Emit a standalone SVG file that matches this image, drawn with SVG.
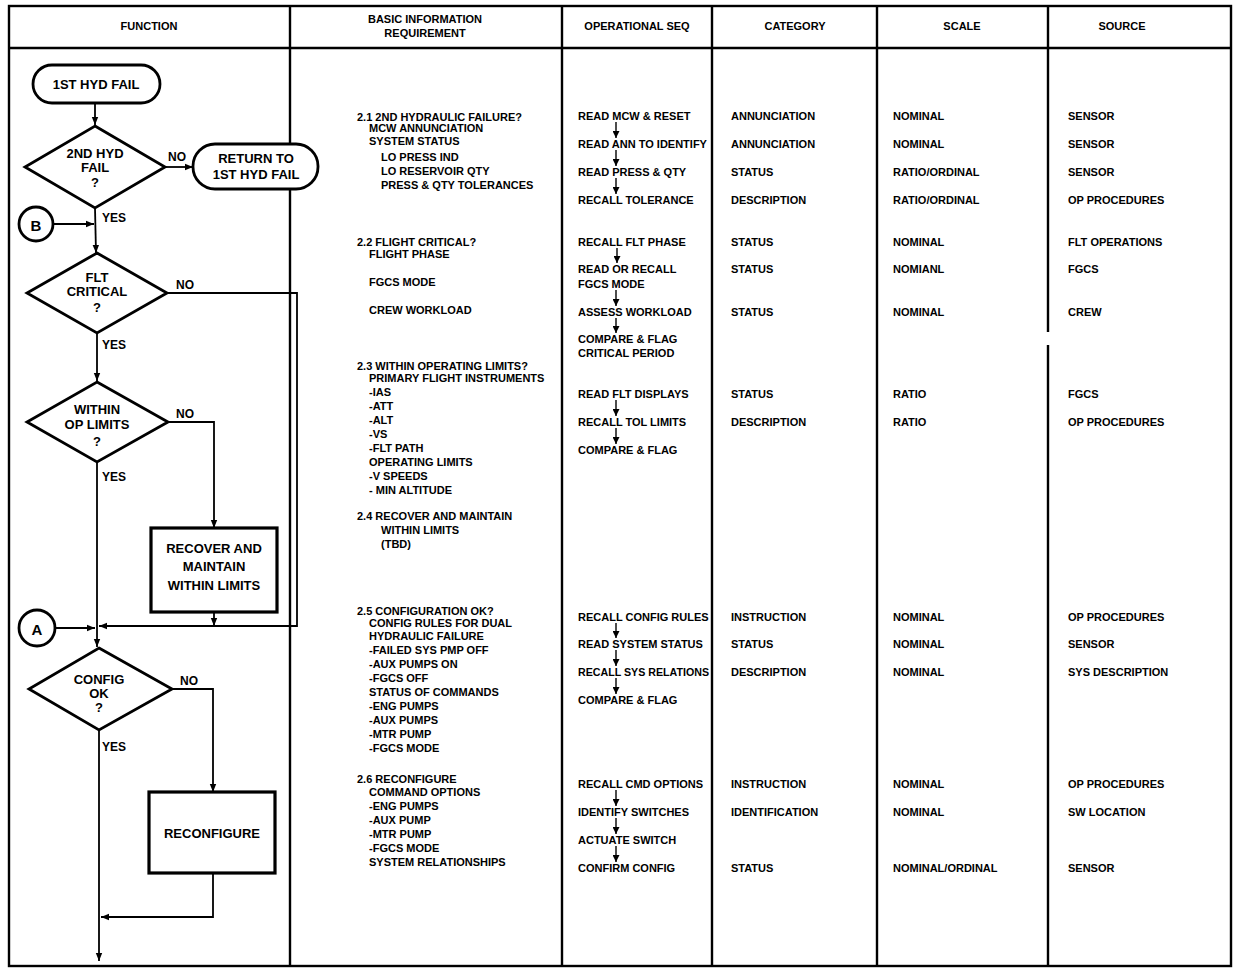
<svg xmlns="http://www.w3.org/2000/svg" width="1236" height="970" viewBox="0 0 1236 970">
<defs>
<marker id="ah" viewBox="0 0 10 10" refX="10" refY="5" markerWidth="8" markerHeight="8" markerUnits="userSpaceOnUse" orient="auto">
<path d="M0,1 L10,5 L0,9 z" fill="#000"/>
</marker>
<marker id="sa" viewBox="0 0 10 10" refX="10" refY="5" markerWidth="7" markerHeight="7" markerUnits="userSpaceOnUse" orient="auto">
<path d="M0,0 L10,5 L0,10 z" fill="#000"/>
</marker>
</defs>
<style>
.grid{stroke:#000;stroke-width:2.4;fill:none}
.t{font-family:"Liberation Sans",Arial,sans-serif;font-weight:bold;font-size:11px;fill:#000;dominant-baseline:central}
.h{font-family:"Liberation Sans",Arial,sans-serif;font-weight:bold;font-size:11px;fill:#000;text-anchor:middle;dominant-baseline:central}
.f{font-family:"Liberation Sans",Arial,sans-serif;font-weight:bold;font-size:13px;fill:#000;text-anchor:middle;dominant-baseline:central}
.lb{font-family:"Liberation Sans",Arial,sans-serif;font-weight:bold;font-size:12px;fill:#000;dominant-baseline:central}
.shape{fill:#fff;stroke:#000;stroke-width:2.8}
.box{fill:#fff;stroke:#000;stroke-width:3.2}
.c{fill:none;stroke:#000;stroke-width:1.8}
.sq{fill:none;stroke:#000;stroke-width:1.4}
</style>
<rect width="1236" height="970" fill="#fff"/>
<g id="table">
<rect class="grid" x="9" y="6" width="1222" height="960"/>
<line class="grid" x1="9" y1="48" x2="1231" y2="48"/>
<line class="grid" x1="290" y1="6" x2="290" y2="966"/>
<line class="grid" x1="562" y1="6" x2="562" y2="966"/>
<line class="grid" x1="712" y1="6" x2="712" y2="966"/>
<line class="grid" x1="877" y1="6" x2="877" y2="966"/>
<line class="grid" x1="1048" y1="6" x2="1048" y2="332"/>
<line class="grid" x1="1048" y1="345" x2="1048" y2="966"/>
<text class="h" x="149" y="26">FUNCTION</text>
<text class="h" x="425" y="19">BASIC INFORMATION</text>
<text class="h" x="425" y="33">REQUIREMENT</text>
<text class="h" x="637" y="26">OPERATIONAL SEQ</text>
<text class="h" x="795" y="26">CATEGORY</text>
<text class="h" x="962" y="26">SCALE</text>
<text class="h" x="1122" y="26">SOURCE</text>
</g>
<g id="connectors">
<line class="c" x1="95" y1="103" x2="95" y2="125" marker-end="url(#ah)"/>
<line class="c" x1="165" y1="167" x2="193" y2="167" marker-end="url(#ah)"/>
<line class="c" x1="95" y1="208" x2="96" y2="253" marker-end="url(#ah)"/>
<line class="c" x1="54" y1="224" x2="94" y2="224" marker-end="url(#ah)"/>
<line class="c" x1="97" y1="333" x2="97" y2="381" marker-end="url(#ah)"/>
<polyline class="c" points="167,293 297,293 297,626 99,626" marker-end="url(#ah)"/>
<polyline class="c" points="168,422 214,422 214,528" marker-end="url(#ah)"/>
<line class="c" x1="214" y1="612" x2="214" y2="626" marker-end="url(#ah)"/>
<line class="c" x1="97" y1="462" x2="97" y2="647" marker-end="url(#ah)"/>
<line class="c" x1="55" y1="628" x2="95" y2="628" marker-end="url(#ah)"/>
<polyline class="c" points="172,689 213,689 213,792" marker-end="url(#ah)"/>
<polyline class="c" points="213,873 213,917 101,917" marker-end="url(#ah)"/>
<line class="c" x1="99" y1="730" x2="99" y2="961" marker-end="url(#ah)"/>
<text class="lb" x="168" y="157">NO</text>
<text class="lb" x="102" y="218">YES</text>
<text class="lb" x="176" y="285">NO</text>
<text class="lb" x="102" y="345">YES</text>
<text class="lb" x="176" y="414">NO</text>
<text class="lb" x="102" y="477">YES</text>
<text class="lb" x="180" y="681">NO</text>
<text class="lb" x="102" y="747">YES</text>
</g>
<g id="n_start">
<rect class="shape" x="33" y="65" width="127" height="38" rx="19"/>
<text class="f" x="96" y="84">1ST HYD FAIL</text>
</g>
<g id="n_2ndhyd">
<polygon class="shape" points="95,126 165,167 95,208 25,167"/>
<text class="f" x="95" y="153">2ND HYD</text>
<text class="f" x="95" y="167">FAIL</text>
<text class="f" x="95" y="182">?</text>
</g>
<g id="n_return">
<rect class="shape" x="193" y="144" width="125" height="45" rx="22"/>
<text class="f" x="256" y="158">RETURN TO</text>
<text class="f" x="256" y="174">1ST HYD FAIL</text>
</g>
<g id="n_b">
<circle class="shape" cx="36" cy="224" r="17"/>
<text class="f" x="36" y="225" style="font-size:15px">B</text>
</g>
<g id="n_flt">
<polygon class="shape" points="97,253 167,293 97,333 27,293"/>
<text class="f" x="97" y="277">FLT</text>
<text class="f" x="97" y="291">CRITICAL</text>
<text class="f" x="97" y="307">?</text>
</g>
<g id="n_within">
<polygon class="shape" points="97,382 168,422 97,462 27,422"/>
<text class="f" x="97" y="409">WITHIN</text>
<text class="f" x="97" y="424">OP  LIMITS</text>
<text class="f" x="97" y="441">?</text>
</g>
<g id="n_recover">
<rect class="box" x="151" y="528" width="126" height="84"/>
<text class="f" x="214" y="548">RECOVER  AND</text>
<text class="f" x="214" y="566">MAINTAIN</text>
<text class="f" x="214" y="585">WITHIN  LIMITS</text>
</g>
<g id="n_a">
<circle class="shape" cx="37" cy="628" r="18"/>
<text class="f" x="37" y="629" style="font-size:15px">A</text>
</g>
<g id="n_config">
<polygon class="shape" points="99,648 172,689 99,730 29,689"/>
<text class="f" x="99" y="679">CONFIG</text>
<text class="f" x="99" y="693">OK</text>
<text class="f" x="99" y="707">?</text>
</g>
<g id="n_reconfig">
<rect class="box" x="149" y="792" width="126" height="81"/>
<text class="f" x="212" y="833">RECONFIGURE</text>
</g>
<g id="col_info">
<text class="t" x="357" y="117">2.1 2ND HYDRAULIC FAILURE?</text>
<text class="t" x="369" y="128">MCW ANNUNCIATION</text>
<text class="t" x="369" y="141">SYSTEM STATUS</text>
<text class="t" x="381" y="157">LO PRESS IND</text>
<text class="t" x="381" y="171">LO RESERVOIR QTY</text>
<text class="t" x="381" y="185">PRESS &amp; QTY TOLERANCES</text>
<text class="t" x="357" y="242">2.2 FLIGHT CRITICAL?</text>
<text class="t" x="369" y="254">FLIGHT PHASE</text>
<text class="t" x="369" y="282">FGCS MODE</text>
<text class="t" x="369" y="310">CREW WORKLOAD</text>
<text class="t" x="357" y="366">2.3 WITHIN OPERATING LIMITS?</text>
<text class="t" x="369" y="378">PRIMARY FLIGHT INSTRUMENTS</text>
<text class="t" x="369" y="392">-IAS</text>
<text class="t" x="369" y="406">-ATT</text>
<text class="t" x="369" y="420">-ALT</text>
<text class="t" x="369" y="434">-VS</text>
<text class="t" x="369" y="448">-FLT PATH</text>
<text class="t" x="369" y="462">OPERATING LIMITS</text>
<text class="t" x="369" y="476">-V SPEEDS</text>
<text class="t" x="369" y="490">- MIN ALTITUDE</text>
<text class="t" x="357" y="516">2.4 RECOVER AND MAINTAIN</text>
<text class="t" x="381" y="530">WITHIN LIMITS</text>
<text class="t" x="381" y="544">(TBD)</text>
<text class="t" x="357" y="611">2.5 CONFIGURATION OK?</text>
<text class="t" x="369" y="623">CONFIG RULES FOR DUAL</text>
<text class="t" x="369" y="636">HYDRAULIC FAILURE</text>
<text class="t" x="369" y="650">-FAILED SYS PMP OFF</text>
<text class="t" x="369" y="664">-AUX PUMPS ON</text>
<text class="t" x="369" y="678">-FGCS OFF</text>
<text class="t" x="369" y="692">STATUS OF COMMANDS</text>
<text class="t" x="369" y="706">-ENG PUMPS</text>
<text class="t" x="369" y="720">-AUX PUMPS</text>
<text class="t" x="369" y="734">-MTR PUMP</text>
<text class="t" x="369" y="748">-FGCS MODE</text>
<text class="t" x="357" y="779">2.6 RECONFIGURE</text>
<text class="t" x="369" y="792">COMMAND OPTIONS</text>
<text class="t" x="369" y="806">-ENG PUMPS</text>
<text class="t" x="369" y="820">-AUX PUMP</text>
<text class="t" x="369" y="834">-MTR PUMP</text>
<text class="t" x="369" y="848">-FGCS MODE</text>
<text class="t" x="369" y="862">SYSTEM RELATIONSHIPS</text>
</g>
<g id="col_seq">
<text class="t" x="578" y="116">READ MCW &amp; RESET</text>
<text class="t" x="578" y="144">READ ANN TO IDENTIFY</text>
<text class="t" x="578" y="172">READ PRESS &amp; QTY</text>
<text class="t" x="578" y="200">RECALL TOLERANCE</text>
<text class="t" x="578" y="242">RECALL FLT PHASE</text>
<text class="t" x="578" y="269">READ OR RECALL</text>
<text class="t" x="578" y="284">FGCS MODE</text>
<text class="t" x="578" y="312">ASSESS WORKLOAD</text>
<text class="t" x="578" y="339">COMPARE &amp; FLAG</text>
<text class="t" x="578" y="353">CRITICAL PERIOD</text>
<text class="t" x="578" y="394">READ FLT DISPLAYS</text>
<text class="t" x="578" y="422">RECALL TOL LIMITS</text>
<text class="t" x="578" y="450">COMPARE &amp; FLAG</text>
<text class="t" x="578" y="617">RECALL CONFIG RULES</text>
<text class="t" x="578" y="644">READ SYSTEM STATUS</text>
<text class="t" x="578" y="672" textLength="131" lengthAdjust="spacingAndGlyphs">RECALL SYS RELATIONS</text>
<text class="t" x="578" y="700">COMPARE &amp; FLAG</text>
<text class="t" x="578" y="784">RECALL CMD OPTIONS</text>
<text class="t" x="578" y="812">IDENTIFY SWITCHES</text>
<text class="t" x="578" y="840">ACTUATE SWITCH</text>
<text class="t" x="578" y="868">CONFIRM CONFIG</text>
<line class="sq" x1="616" y1="122" x2="616" y2="138" marker-end="url(#sa)"/>
<line class="sq" x1="616" y1="150" x2="616" y2="166" marker-end="url(#sa)"/>
<line class="sq" x1="616" y1="178" x2="616" y2="194" marker-end="url(#sa)"/>
<line class="sq" x1="617" y1="248" x2="617" y2="263" marker-end="url(#sa)"/>
<line class="sq" x1="616" y1="290" x2="616" y2="306" marker-end="url(#sa)"/>
<line class="sq" x1="616" y1="318" x2="616" y2="333" marker-end="url(#sa)"/>
<line class="sq" x1="616" y1="400" x2="616" y2="416" marker-end="url(#sa)"/>
<line class="sq" x1="616" y1="428" x2="616" y2="444" marker-end="url(#sa)"/>
<line class="sq" x1="616" y1="623" x2="616" y2="638" marker-end="url(#sa)"/>
<line class="sq" x1="616" y1="650" x2="616" y2="666" marker-end="url(#sa)"/>
<line class="sq" x1="616" y1="678" x2="616" y2="694" marker-end="url(#sa)"/>
<line class="sq" x1="616" y1="790" x2="616" y2="806" marker-end="url(#sa)"/>
<line class="sq" x1="616" y1="818" x2="616" y2="834" marker-end="url(#sa)"/>
<line class="sq" x1="616" y1="846" x2="616" y2="862" marker-end="url(#sa)"/>
</g>
<g id="col_category">
<text class="t" x="731" y="116">ANNUNCIATION</text>
<text class="t" x="731" y="144">ANNUNCIATION</text>
<text class="t" x="731" y="172">STATUS</text>
<text class="t" x="731" y="200">DESCRIPTION</text>
<text class="t" x="731" y="242">STATUS</text>
<text class="t" x="731" y="269">STATUS</text>
<text class="t" x="731" y="312">STATUS</text>
<text class="t" x="731" y="394">STATUS</text>
<text class="t" x="731" y="422">DESCRIPTION</text>
<text class="t" x="731" y="617">INSTRUCTION</text>
<text class="t" x="731" y="644">STATUS</text>
<text class="t" x="731" y="672">DESCRIPTION</text>
<text class="t" x="731" y="784">INSTRUCTION</text>
<text class="t" x="731" y="812">IDENTIFICATION</text>
<text class="t" x="731" y="868">STATUS</text>
</g>
<g id="col_scale">
<text class="t" x="893" y="116">NOMINAL</text>
<text class="t" x="893" y="144">NOMINAL</text>
<text class="t" x="893" y="172">RATIO/ORDINAL</text>
<text class="t" x="893" y="200">RATIO/ORDINAL</text>
<text class="t" x="893" y="242">NOMINAL</text>
<text class="t" x="893" y="269">NOMIANL</text>
<text class="t" x="893" y="312">NOMINAL</text>
<text class="t" x="893" y="394">RATIO</text>
<text class="t" x="893" y="422">RATIO</text>
<text class="t" x="893" y="617">NOMINAL</text>
<text class="t" x="893" y="644">NOMINAL</text>
<text class="t" x="893" y="672">NOMINAL</text>
<text class="t" x="893" y="784">NOMINAL</text>
<text class="t" x="893" y="812">NOMINAL</text>
<text class="t" x="893" y="868">NOMINAL/ORDINAL</text>
</g>
<g id="col_source">
<text class="t" x="1068" y="116">SENSOR</text>
<text class="t" x="1068" y="144">SENSOR</text>
<text class="t" x="1068" y="172">SENSOR</text>
<text class="t" x="1068" y="200">OP PROCEDURES</text>
<text class="t" x="1068" y="242">FLT OPERATIONS</text>
<text class="t" x="1068" y="269">FGCS</text>
<text class="t" x="1068" y="312">CREW</text>
<text class="t" x="1068" y="394">FGCS</text>
<text class="t" x="1068" y="422">OP PROCEDURES</text>
<text class="t" x="1068" y="617">OP PROCEDURES</text>
<text class="t" x="1068" y="644">SENSOR</text>
<text class="t" x="1068" y="672">SYS DESCRIPTION</text>
<text class="t" x="1068" y="784">OP PROCEDURES</text>
<text class="t" x="1068" y="812">SW LOCATION</text>
<text class="t" x="1068" y="868">SENSOR</text>
</g>
</svg>
